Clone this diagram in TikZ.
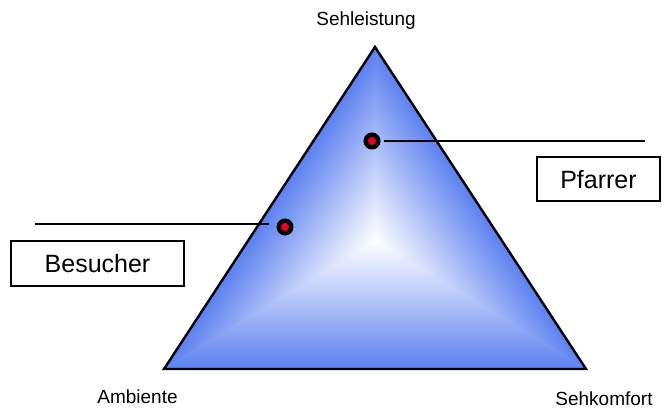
\documentclass[tikz,border=0pt]{standalone}
\usepackage{fontspec}
\setmainfont{Liberation Sans}
\definecolor{triblue}{RGB}{92,128,240}
\definecolor{dotred}{RGB}{235,0,40}

\begin{document}
\begin{tikzpicture}[x=1pt, y=1pt,
  rolle/.style={draw, line width=2pt, inner sep=0pt, font=\fontsize{25}{30}\selectfont},
  punkt/.style={circle, draw=black, fill=dotred, line width=4.5pt, minimum size=12.5pt, inner sep=0pt},
  ecke/.style={anchor=base, font=\fontsize{19}{22}\selectfont},
  linie/.style={line width=2pt}]
  \useasboundingbox (0,0) rectangle (662,409);
  % Die Ecken des Dreiecks und sein heller Mittelpunkt.
  \coordinate (spitze) at (375,362);
  \coordinate (links) at (164,40);
  \coordinate (rechts) at (586,40);
  \coordinate (mitte) at (375,169);
  % Verlauf: drei Teildreiecke, jeweils von der Kante zur Mitte hin heller.
  \fill[triblue!40!white] (spitze) -- (links) -- (rechts) -- cycle;
  \begin{scope}
    \clip (mitte) -- (links) -- (rechts) -- cycle;
    \shade[bottom color=triblue, top color=white] (links) rectangle (586,169);
  \end{scope}
  \begin{scope}
    \clip (mitte) -- (spitze) -- (links) -- cycle;
    \shade[transform canvas={shift={(164,40)}, rotate=56.76},
      top color=triblue, bottom color=white] (0,0) rectangle (385,-105.8);
  \end{scope}
  \begin{scope}
    \clip (mitte) -- (spitze) -- (rechts) -- cycle;
    \shade[transform canvas={shift={(586,40)}, rotate=123.24},
      bottom color=triblue, top color=white] (0,0) rectangle (385,105.8);
  \end{scope}
  \draw[line width=2.4pt, line join=miter] (spitze) -- (links) -- (rechts) -- cycle;
  % Die Beschriftung der Ecken.
  \node[ecke] (sehleistung) at (366,383) {Sehleistung};
  \node[ecke] (ambiente) at (137.5,5) {Ambiente};
  \node[ecke] (sehkomfort) at (604,3) {Sehkomfort};
  % Pfarrer und Besucher mit ihren Punkten.
  \node[punkt] (pfarrerpunkt) at (372,268) {};
  \node[punkt] (besucherpunkt) at (285,182) {};
  \coordinate (pfarrerende) at (645,268);
  \coordinate (besucheranfang) at (35,185);
  \draw[linie, shorten <=3pt] (pfarrerpunkt) -- (pfarrerende);
  \draw[linie, shorten >=8pt] (besucheranfang) -- (besucheranfang -| besucherpunkt.west);
  \node[rolle, minimum width=123pt, minimum height=44pt] (pfarrer) at (598.5,229.5) {Pfarrer};
  \node[rolle, minimum width=173pt, minimum height=45pt] (besucher) at (97.5,145.5) {Besucher};
\end{tikzpicture}
\end{document}
